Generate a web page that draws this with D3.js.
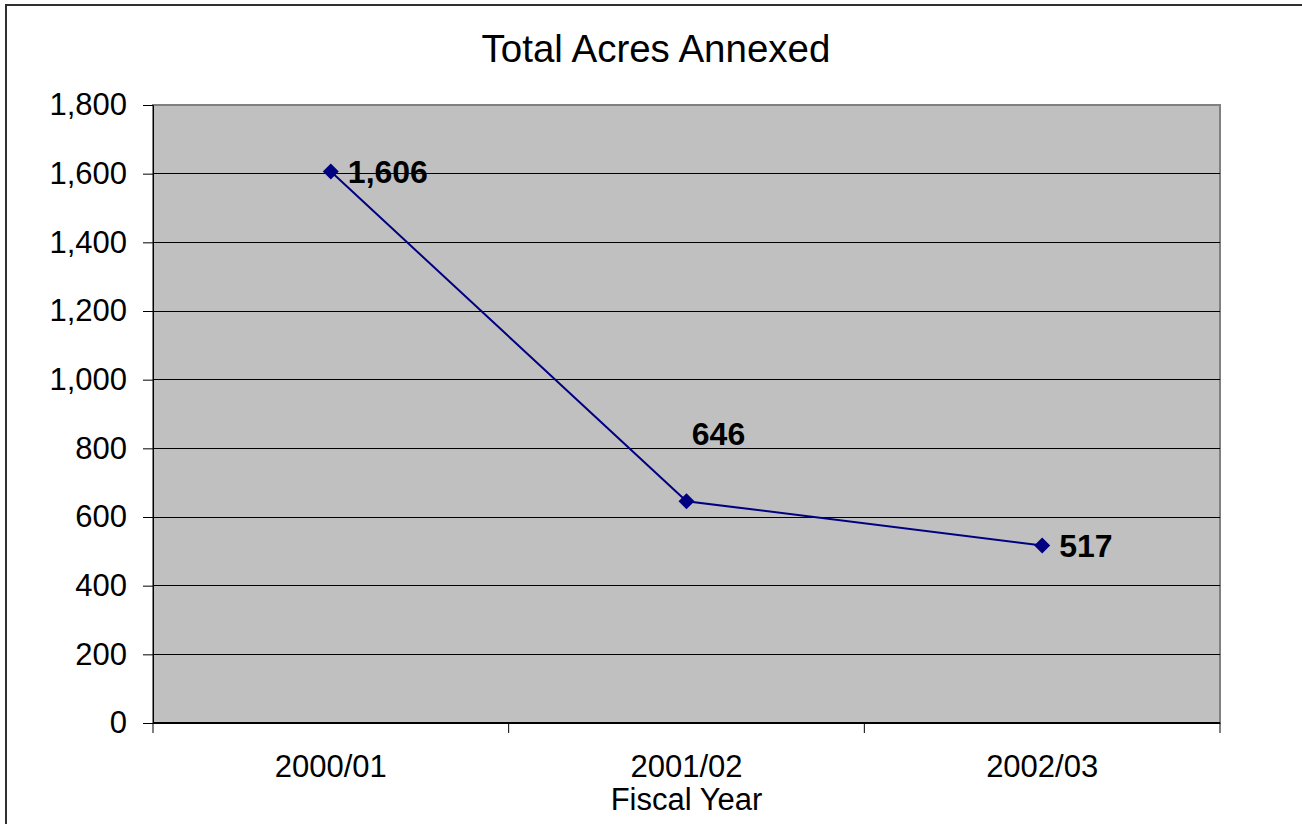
<!DOCTYPE html>
<html>
<head>
<meta charset="utf-8">
<script src="https://cdn.jsdelivr.net/npm/d3@7/dist/d3.min.js"></script>
<style>
  body { margin: 0; background: white; }
  text { font-family: "Liberation Sans", Arial, sans-serif; }
</style>
</head>
<body>
<div id="chart"></div>
<script>
const width = 1302;
const height = 824;

const years = ["2000/01", "2001/02", "2002/03"];
const acres = [1606, 646, 517];
const yTicks = [0, 200, 400, 600, 800, 1000, 1200, 1400, 1600, 1800];

const plot = { left: 153, right: 1220, top: 105, bottom: 723 };

const svg = d3.select("#chart")
  .append("svg")
  .attr("width", width)
  .attr("height", height);

// outer chart border
svg.append("rect")
  .attr("x", 6).attr("y", 5)
  .attr("width", 1310).attr("height", 840)
  .attr("fill", "white")
  .attr("stroke", "#303030")
  .attr("stroke-width", 2);

const x = d3.scaleBand()
  .domain(years)
  .range([plot.left, plot.right]);

const y = d3.scaleLinear()
  .domain([0, 1800])
  .range([plot.bottom, plot.top]);

// plot area
svg.append("rect")
  .attr("x", plot.left).attr("y", plot.top)
  .attr("width", plot.right - plot.left)
  .attr("height", plot.bottom - plot.top)
  .attr("fill", "#c0c0c0")
  .attr("stroke", "#808080")
  .attr("stroke-width", 2);

// gridlines
svg.append("g")
  .selectAll("line")
  .data(yTicks.filter(d => d > 0 && d < 1800))
  .join("line")
  .attr("x1", plot.left).attr("x2", plot.right)
  .attr("y1", d => y(d)).attr("y2", d => y(d))
  .attr("stroke", "#000")
  .attr("stroke-width", 1)
  .attr("shape-rendering", "crispEdges");

// y axis
const yAxis = svg.append("g")
  .attr("transform", `translate(${plot.left},0)`)
  .call(d3.axisLeft(y).tickValues(yTicks).tickSize(10).tickPadding(16).tickFormat(d3.format(",")));
yAxis.select(".domain").attr("stroke", "#000").attr("stroke-width", 1);
yAxis.selectAll(".tick line").attr("stroke", "#000");
yAxis.selectAll("text")
  .attr("font-size", 31)
  .attr("font-family", "Liberation Sans, Arial, sans-serif")
  .attr("fill", "#000");

// x axis with ticks at category boundaries
const xAxis = svg.append("g")
  .attr("transform", `translate(0,${plot.bottom})`);
xAxis.append("line")
  .attr("x1", plot.left).attr("x2", plot.right)
  .attr("stroke", "#000").attr("stroke-width", 2);
const bounds = years.map(d => x(d)).concat([x(years[years.length - 1]) + x.bandwidth()]);
xAxis.selectAll("line.tick")
  .data(bounds)
  .join("line")
  .attr("class", "tick")
  .attr("x1", d => d).attr("x2", d => d)
  .attr("y1", 0).attr("y2", 10)
  .attr("stroke", "#000");
xAxis.selectAll("text")
  .data(years)
  .join("text")
  .attr("x", d => x(d) + x.bandwidth() / 2)
  .attr("y", 54)
  .attr("text-anchor", "middle")
  .attr("font-size", 31)
  .attr("fill", "#000")
  .text(d => d);

// axis title
svg.append("text")
  .attr("x", x(years[1]) + x.bandwidth() / 2)
  .attr("y", 810)
  .attr("text-anchor", "middle")
  .attr("font-size", 31)
  .text("Fiscal Year");

// chart title
svg.append("text")
  .attr("x", 656)
  .attr("y", 62)
  .attr("text-anchor", "middle")
  .attr("font-size", 38.5)
  .text("Total Acres Annexed");

const data = years.map((d, i) => ({ year: d, value: acres[i] }));
const cx = d => x(d.year) + x.bandwidth() / 2;

// line
svg.append("path")
  .datum(data)
  .attr("fill", "none")
  .attr("stroke", "#000080")
  .attr("stroke-width", 2)
  .attr("d", d3.line().x(cx).y(d => y(d.value)));

// diamond markers
svg.append("g")
  .selectAll("path")
  .data(data)
  .join("path")
  .attr("transform", d => `translate(${cx(d)},${y(d.value)})`)
  .attr("d", "M0,-8L8,0L0,8L-8,0Z")
  .attr("fill", "#000080");

// data labels
const labelOffsets = [
  { dx: 17, dy: 11, anchor: "start" },
  { dx: 32, dy: -56, anchor: "middle" },
  { dx: 17, dy: 12, anchor: "start" },
];
svg.append("g")
  .selectAll("text")
  .data(data)
  .join("text")
  .attr("x", (d, i) => cx(d) + labelOffsets[i].dx)
  .attr("y", (d, i) => y(d.value) + labelOffsets[i].dy)
  .attr("text-anchor", (d, i) => labelOffsets[i].anchor)
  .attr("font-size", 32)
  .attr("font-weight", "bold")
  .attr("fill", "#000")
  .text(d => d3.format(",")(d.value));
</script>
</body>
</html>
